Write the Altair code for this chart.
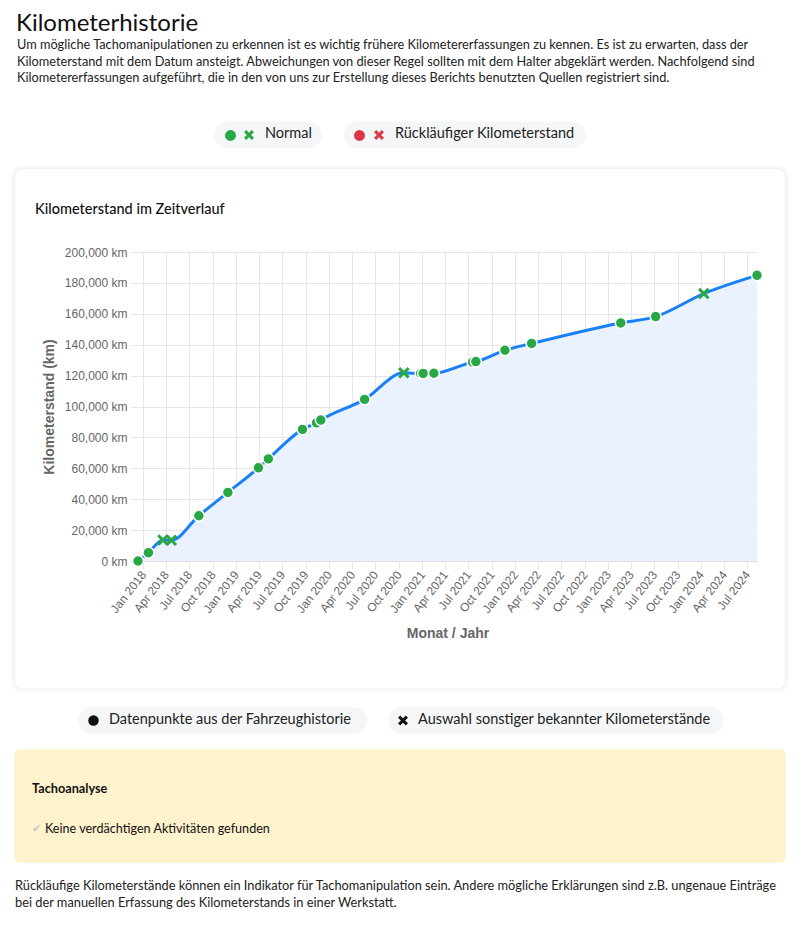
import altair as alt
import pandas as pd

# ---------------- data ----------------
dates = ["2017-12-12", "2018-01-22", "2018-03-20", "2018-04-22", "2018-08-08",
         "2018-11-30", "2019-03-30", "2019-05-08", "2019-09-19", "2019-11-13",
         "2019-11-30", "2020-05-20", "2020-10-21", "2020-12-26", "2021-01-05",
         "2021-02-16", "2021-07-18", "2021-07-31", "2021-11-22", "2022-03-07",
         "2023-02-20", "2023-07-07", "2024-01-12", "2024-08-08"]
km = [0, 5400, 13600, 13400, 29300,
      44400, 60300, 66100, 85200, 89400,
      91200, 104600, 121800, 121400, 121400,
      121500, 128700, 129100, 136400, 140800,
      154100, 158200, 173100, 184900]
kind = ["dot", "dot", "cross", "cross", "dot",
        "dot", "dot", "dot", "dot", "dot",
        "dot", "dot", "cross", "dot", "dot",
        "dot", "dot", "dot", "dot", "dot",
        "dot", "dot", "cross", "dot"]

y_ticks = [0, 20000, 40000, 60000, 80000, 100000, 120000, 140000, 160000, 180000, 200000]
x_ticks = ["2018-01-01", "2018-04-01", "2018-07-01", "2018-10-01",
           "2019-01-01", "2019-04-01", "2019-07-01", "2019-10-01",
           "2020-01-01", "2020-04-01", "2020-07-01", "2020-10-01",
           "2021-01-01", "2021-04-01", "2021-07-01", "2021-10-01",
           "2022-01-01", "2022-04-01", "2022-07-01", "2022-10-01",
           "2023-01-01", "2023-04-01", "2023-07-01", "2023-10-01",
           "2024-01-01", "2024-04-01", "2024-07-01"]

heading = "Kilometerhistorie"
intro = [
    "Um mögliche Tachomanipulationen zu erkennen ist es wichtig frühere Kilometererfassungen zu kennen. Es ist zu erwarten, dass der",
    "Kilometerstand mit dem Datum ansteigt. Abweichungen von dieser Regel sollten mit dem Halter abgeklärt werden. Nachfolgend sind",
    "Kilometererfassungen aufgeführt, die in den von uns zur Erstellung dieses Berichts benutzten Quellen registriert sind.",
]
legend_top = ["Normal", "Rückläufiger Kilometerstand"]
chart_title = "Kilometerstand im Zeitverlauf"
legend_bottom = ["Datenpunkte aus der Fahrzeughistorie", "Auswahl sonstiger bekannter Kilometerstände"]
box_title = "Tachoanalyse"
box_text = "Keine verdächtigen Aktivitäten gefunden"
footer = [
    "Rückläufige Kilometerstände können ein Indikator für Tachomanipulation sein. Andere mögliche Erklärungen sind z.B. ungenaue Einträge",
    "bei der manuellen Erfassung des Kilometerstands in einer Werkstatt.",
]

df = pd.DataFrame({"date": dates, "km": km, "kind": kind})

# ---------------- layout helpers (page pixel -> plot pixel) ----------------
X0, Y0 = 138, 252
W, H = 619, 309
PAGE_FONT = "Lato"
AXIS_FONT = "Liberation Sans"
GREEN = "#28a745"
RED = "#dc3545"
CROSS = "M-1,-1L1,1M1,-1L-1,1"

one = pd.DataFrame({"k": [0]})


def px(x):
    return x - X0


def py(y):
    return y - Y0


def rect(x1, y1, x2, y2, **kw):
    return alt.Chart(one).mark_rect(**kw).encode(
        x=alt.value(px(x1)), x2=alt.value(px(x2)),
        y=alt.value(py(y1)), y2=alt.value(py(y2)))


def text(x, y, t, size=12.75, weight="normal", color="#222", font=PAGE_FONT, align="left"):
    return alt.Chart(one).mark_text(
        x=px(x), y=py(y), text=t, fontSize=size, fontWeight=weight,
        color=color, font=font, align=align, baseline="middle")


def symbol(x, y, shape, color, size, filled=True, sw=0):
    kw = dict(x=px(x), y=py(y), shape=shape, size=size, opacity=1)
    if filled:
        kw.update(filled=True, fill=color, strokeWidth=0)
    else:
        kw.update(filled=False, stroke=color, strokeWidth=sw)
    return alt.Chart(one).mark_point(**kw)


layers = []

# card shadow / outline (stroke only, so the plot grid stays visible)
layers.append(rect(13, 167, 787, 691, filled=False, stroke="#f8f8f8", strokeWidth=3, cornerRadius=9))
layers.append(rect(14.5, 168.5, 785.5, 689, filled=False, stroke="#f0f0f0", strokeWidth=1.2, cornerRadius=8))

# header
layers.append(text(16, 24, heading, size=24, color="#111"))
for i, line in enumerate(intro):
    layers.append(text(17, 45 + i * 16.6, line))

# top legend pills
layers.append(rect(214, 121.5, 322, 148.5, fill="#f4f6f7", cornerRadius=13.5))
layers.append(rect(344, 121.5, 586, 148.5, fill="#f4f6f7", cornerRadius=13.5))
layers.append(symbol(230.5, 135.5, "circle", GREEN, 120))
layers.append(symbol(249, 135, CROSS, GREEN, 60, filled=False, sw=3))
layers.append(text(265, 134, legend_top[0], size=14.5))
layers.append(symbol(359.5, 135.5, "circle", RED, 120))
layers.append(symbol(379, 135, CROSS, RED, 60, filled=False, sw=3))
layers.append(text(395, 134, legend_top[1], size=14.5))

# chart title in card
layers.append(text(35, 210, chart_title, size=14.5, weight=500, color="#111"))

# bottom legend pills
layers.append(rect(78, 707, 367, 734, fill="#f4f6f7", cornerRadius=13.5))
layers.append(rect(388, 707, 724, 734, fill="#f4f6f7", cornerRadius=13.5))
layers.append(symbol(93.5, 720.5, "circle", "#111", 110))
layers.append(text(109, 720, legend_bottom[0], size=14.5))
layers.append(symbol(403, 720.5, CROSS, "#111", 60, filled=False, sw=3))
layers.append(text(418, 720, legend_bottom[1], size=14.5))

# yellow analysis box
layers.append(rect(15, 750, 785, 862, fill="#fff3cd", stroke="#ffeeba", strokeWidth=1, cornerRadius=5))
layers.append(text(32, 789, box_title, size=12.7, weight="bold", color="#111"))
layers.append(text(32, 829, "✔", size=11, color="#c4c4c4", font="DejaVu Sans"))
layers.append(text(45, 829, box_text, size=12.6, color="#111"))

# footer
for i, line in enumerate(footer):
    layers.append(text(15, 886 + i * 16.5, line, size=12.8))

# ---------------- main plot ----------------
x_enc = alt.X("date:T",
              scale=alt.Scale(nice=False, padding=0),
              axis=alt.Axis(title="Monat / Jahr", values=x_ticks, format="%b %Y",
                            labelAngle=-52, labelFont=AXIS_FONT, labelFontSize=12,
                            labelColor="#666", titleFont=AXIS_FONT, titleFontSize=14,
                            titleFontWeight="bold", titleColor="#666", titlePadding=12,
                            gridColor="#e6e6e6", tickColor="#e6e6e6", tickSize=8,
                            domainColor="#dddddd", labelPadding=3, labelOverlap=False,
                            labelFlush=False))
y_enc = alt.Y("km:Q",
              scale=alt.Scale(domain=[y_ticks[0], y_ticks[-1]], nice=False),
              axis=alt.Axis(title="Kilometerstand (km)", values=y_ticks,
                            labelExpr="format(datum.value, ',') + ' km'",
                            labelFont=AXIS_FONT, labelFontSize=12, labelColor="#666",
                            titleFont=AXIS_FONT, titleFontSize=14, titleFontWeight="bold",
                            titleColor="#666", titlePadding=8, labelOverlap=False,
                            gridColor="#e6e6e6", tickColor="#e6e6e6", tickSize=8,
                            domain=False, labelPadding=3))

base = alt.Chart(df)
area = base.mark_area(interpolate="monotone", color="#e9f2fe", opacity=1).encode(x=x_enc, y=y_enc)
line = base.mark_line(interpolate="monotone", color="#1a80f7", strokeWidth=3).encode(x=x_enc, y=y_enc)
dots = base.transform_filter(alt.datum.kind == "dot").mark_point(
    shape="circle", filled=True, fill=GREEN, stroke="white", strokeWidth=1.5, size=120, opacity=1
).encode(x=x_enc, y=y_enc)
crosses = base.transform_filter(alt.datum.kind == "cross").mark_point(
    shape=CROSS, filled=False, stroke=GREEN, strokeWidth=3, size=90, opacity=1
).encode(x=x_enc, y=y_enc)

chart = alt.layer(*layers, area, line, dots, crosses).properties(
    width=W, height=H,
    autosize=alt.AutoSizeParams(type="none"),
    padding={"left": X0 - 8, "top": Y0 - 8, "right": 784 - (X0 - 8) - W, "bottom": 912 - (Y0 - 8) - H},
    background="white",
).configure_view(stroke=None).configure_axis(labelOverlap=False)

chart.save("out.html", embed_options={"renderer": "svg", "actions": False})
